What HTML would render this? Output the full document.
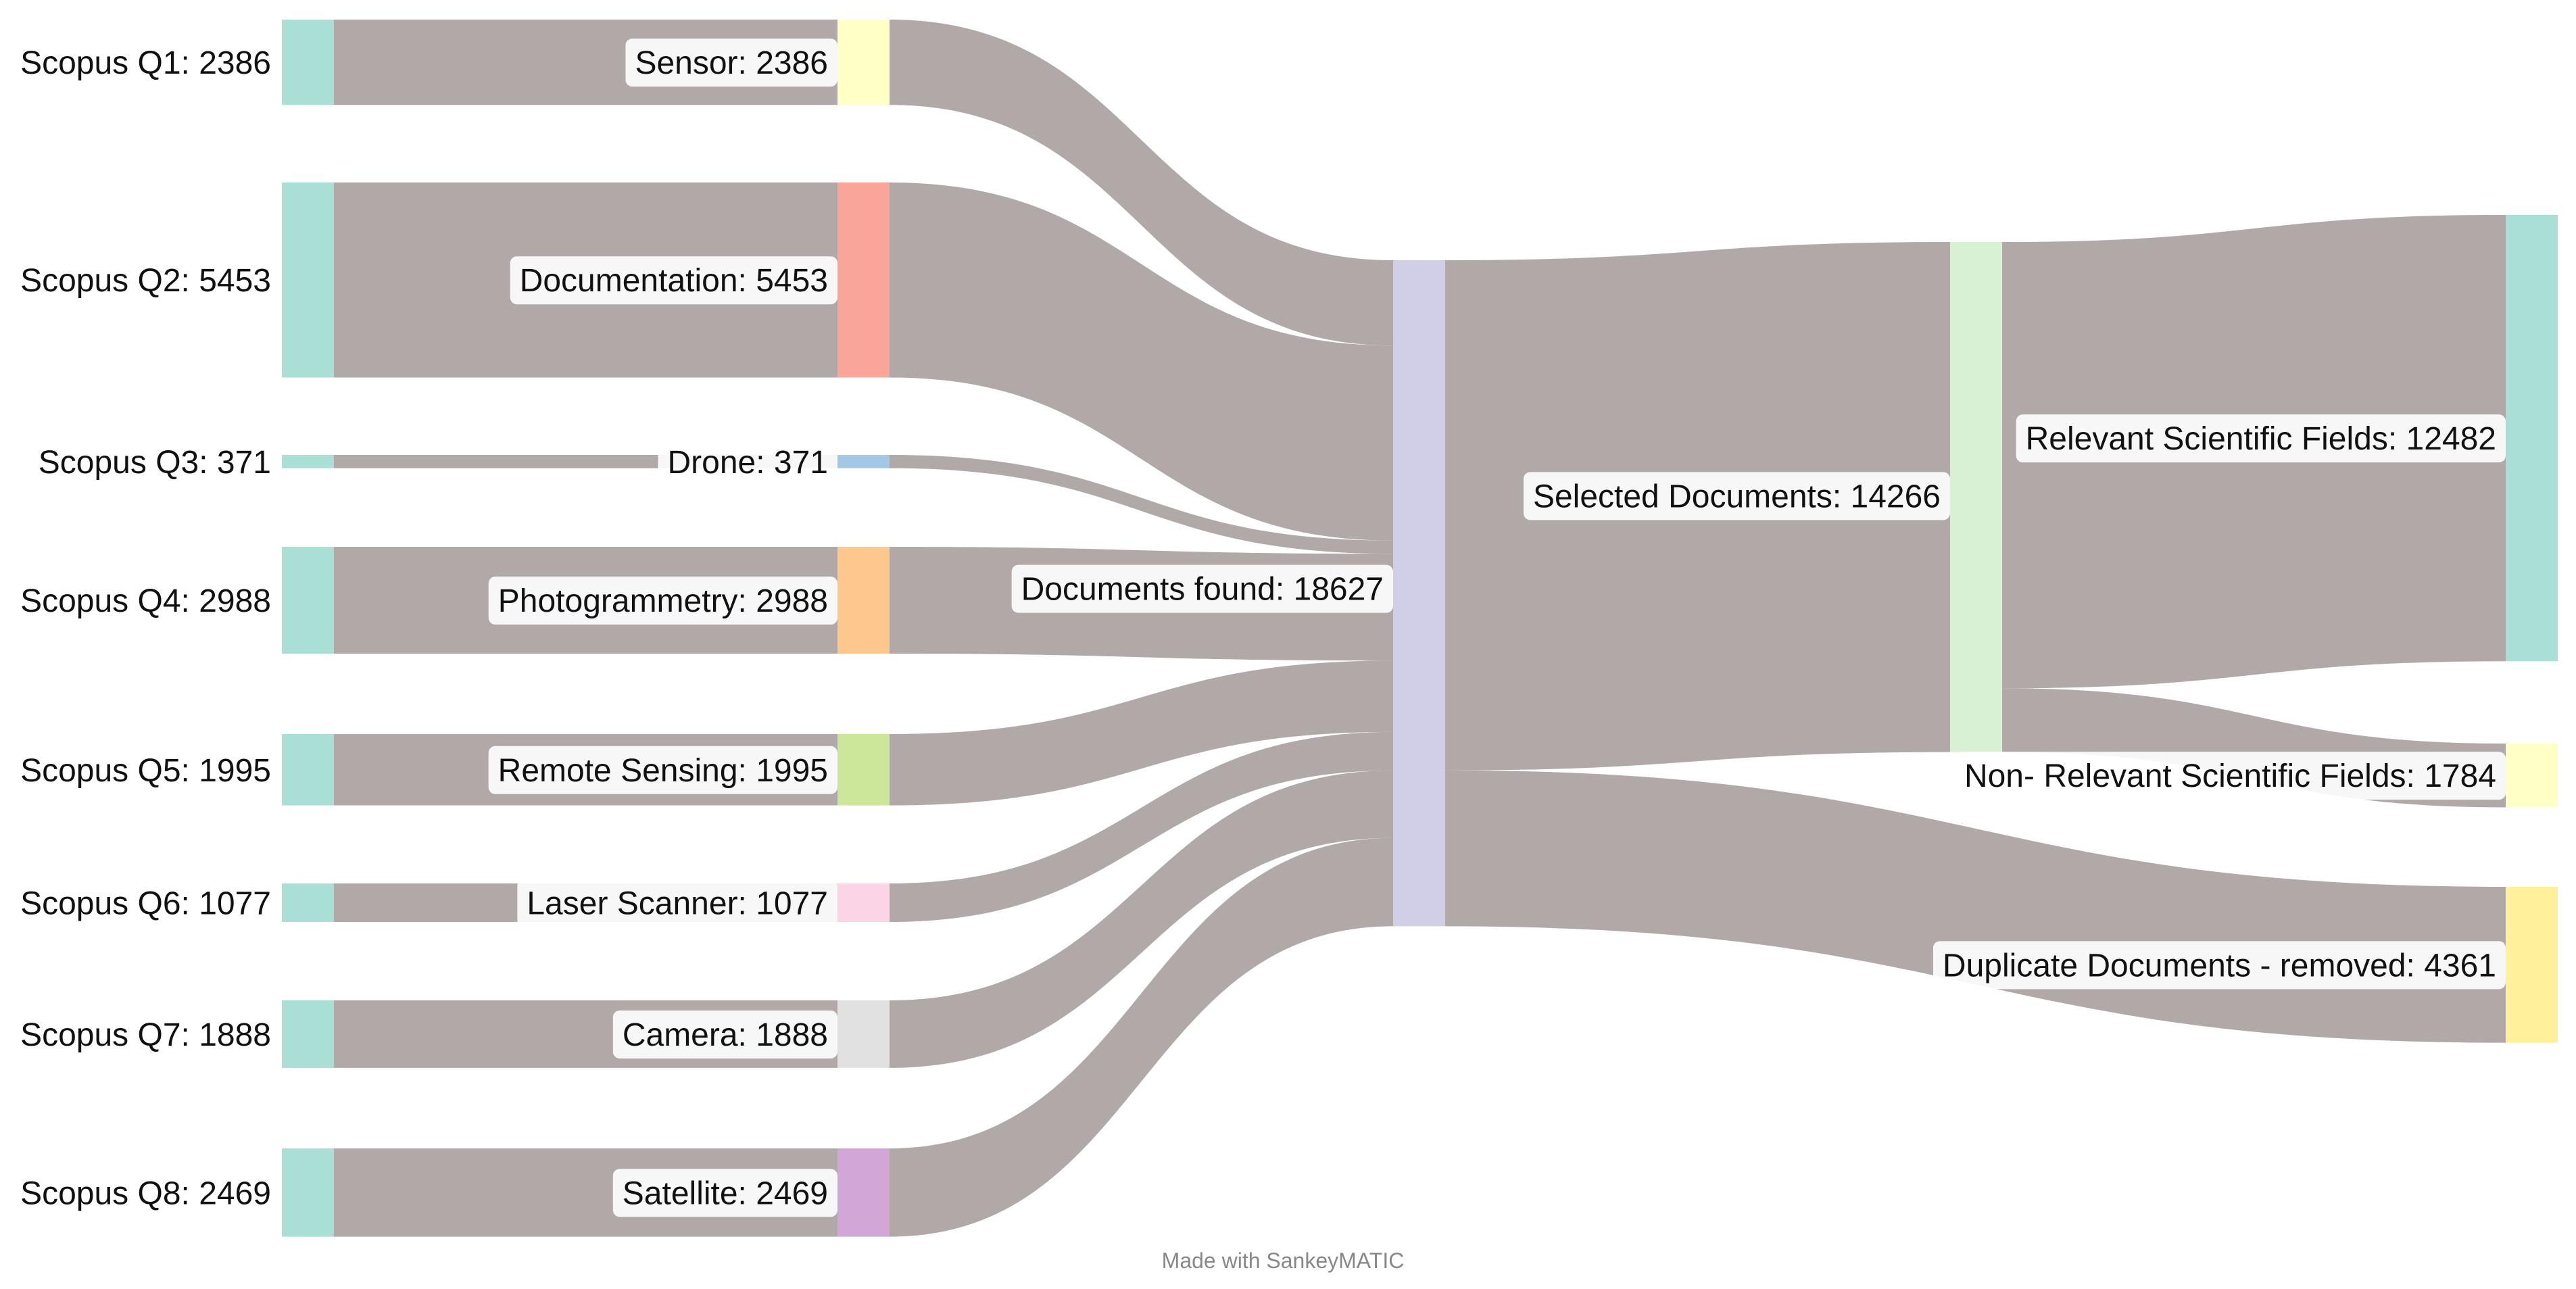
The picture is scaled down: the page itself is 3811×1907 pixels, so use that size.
<!DOCTYPE html>
<html><head><meta charset="utf-8">
<style>
html,body{margin:0;padding:0;background:#fff;}
svg{display:block;}
text{font-family:"Liberation Sans",sans-serif;}
</style></head>
<body>
<svg id="chart" width="3811" height="1907" viewBox="0 0 3811 1907" xmlns="http://www.w3.org/2000/svg">
<g id="flows"></g>
<g id="nodes"></g>
<g id="labels"></g>
<text x="1898" y="1876" font-size="32" fill="#888" text-anchor="middle">Made with SankeyMATIC</text>
</svg>
<script>
// data
const queryNames = ["Scopus Q1","Scopus Q2","Scopus Q3","Scopus Q4","Scopus Q5","Scopus Q6","Scopus Q7","Scopus Q8"];
const topicNames = ["Sensor","Documentation","Drone","Photogrammetry","Remote Sensing","Laser Scanner","Camera","Satellite"];
const queryValues = [2386,5453,371,2988,1995,1077,1888,2469];
const foundName = "Documents found";
const selectedName = "Selected Documents";
const selectedValue = 14266;
const duplicateName = "Duplicate Documents - removed";
const duplicateValue = 4361;
const relevantName = "Relevant Scientific Fields";
const relevantValue = 12482;
const nonRelevantName = "Non- Relevant Scientific Fields";
const nonRelevantValue = 1784;

// layout
const K = 0.0529;
const W = 77;
const FS = 48;
const colX = [417,1239,2061,2885,3707];
const leftTops = [29,270,673,809,1086,1307,1480,1699];
const topicColors = ["#ffffc6","#f9a59a","#a3c8e4","#fdc88e","#cce69a","#fbd5e6","#e1e1e1","#d2a6d6"];
const NS="http://www.w3.org/2000/svg";
const gF=document.getElementById('flows'),gN=document.getElementById('nodes'),gL=document.getElementById('labels');
const sum=a=>a.reduce((s,v)=>s+v,0);

function flow(x0,y0,x1,y1,v,name){
  const h=v*K, xm=(x0+x1)/2;
  const p=document.createElementNS(NS,'path');
  p.setAttribute('d',`M${x0},${y0}C${xm},${y0} ${xm},${y1} ${x1},${y1}L${x1},${y1+h}C${xm},${y1+h} ${xm},${y0+h} ${x0},${y0+h}Z`);
  p.setAttribute('fill','#b1a8a8');
  
  
  gF.appendChild(p);
}
function node(x,y,v,color,name){
  const r=document.createElementNS(NS,'rect');
  r.setAttribute('x',x);r.setAttribute('y',y);r.setAttribute('width',W);r.setAttribute('height',v*K);
  r.setAttribute('fill',color);
  
  
  gN.appendChild(r);
}
function label(xr,cy,str,box,name){
  const t=document.createElementNS(NS,'text');
  t.setAttribute('x',xr);t.setAttribute('y',cy+17);t.setAttribute('font-size',FS);
  t.setAttribute('text-anchor','end');t.setAttribute('fill','#111');
  t.textContent=str;
  
  
  gL.appendChild(t);
  if(box){
    const w=t.getComputedTextLength();
    const r=document.createElementNS(NS,'rect');
    r.setAttribute('x',xr-w-14);r.setAttribute('y',cy-35);r.setAttribute('width',w+28);r.setAttribute('height',71);
    r.setAttribute('rx',10);r.setAttribute('fill','rgba(255,255,255,0.9)');
    
    
    gL.insertBefore(r,t);
  }
}
const slug=s=>s.toLowerCase().replace(/[^a-z0-9]+/g,'-').replace(/-$/,'');

const foundTop=385, selTop=358, relTop=318, nonTop=1100, dupTop=1312;
const foundValue=sum(queryValues);
let fy=foundTop;
queryValues.forEach((v,i)=>{
  const y=leftTops[i];
  flow(colX[0]+W,y,colX[1],y,v,'flow-'+slug(queryNames[i]));
  flow(colX[1]+W,y,colX[2],fy,v,'flow-'+slug(topicNames[i]));
  fy+=v*K;
});
flow(colX[2]+W,foundTop,colX[3],selTop,selectedValue,'flow-selected');
flow(colX[2]+W,foundTop+selectedValue*K,colX[4],dupTop,duplicateValue,'flow-duplicate');
flow(colX[3]+W,selTop,colX[4],relTop,relevantValue,'flow-relevant');
flow(colX[3]+W,selTop+relevantValue*K,colX[4],nonTop,nonRelevantValue,'flow-non-relevant');

queryValues.forEach((v,i)=>{
  node(colX[0],leftTops[i],v,'#aadfd6','node-'+slug(queryNames[i]));
  node(colX[1],leftTops[i],v,topicColors[i],'node-'+slug(topicNames[i]));
  const cy=leftTops[i]+v*K/2;
  label(colX[0]-16,cy,queryNames[i]+': '+v,false,'label-'+slug(queryNames[i]));
  label(colX[1]-14,cy,topicNames[i]+': '+v,true,'label-'+slug(topicNames[i]));
});
node(colX[2],foundTop,foundValue,'#d0cfe7','node-documents-found');
node(colX[3],selTop,selectedValue,'#d8f0d4','node-selected-documents');
node(colX[4],relTop,relevantValue,'#aadfd6','node-relevant-fields');
node(colX[4],nonTop,nonRelevantValue,'#ffffc6','node-non-relevant-fields');
node(colX[4],dupTop,duplicateValue,'#fff19b','node-duplicate-documents');
label(colX[2]-14,foundTop+foundValue*K/2-7,foundName+': '+foundValue,true,'label-documents-found');
label(colX[3]-14,selTop+selectedValue*K/2-2,selectedName+': '+selectedValue,true,'label-selected-documents');
label(colX[4]-14,relTop+relevantValue*K/2,relevantName+': '+relevantValue,true,'label-relevant-fields');
label(colX[4]-14,nonTop+nonRelevantValue*K/2,nonRelevantName+': '+nonRelevantValue,true,'label-non-relevant-fields');
label(colX[4]-14,dupTop+duplicateValue*K/2,duplicateName+': '+duplicateValue,true,'label-duplicate-documents');
</script>
</body></html>
